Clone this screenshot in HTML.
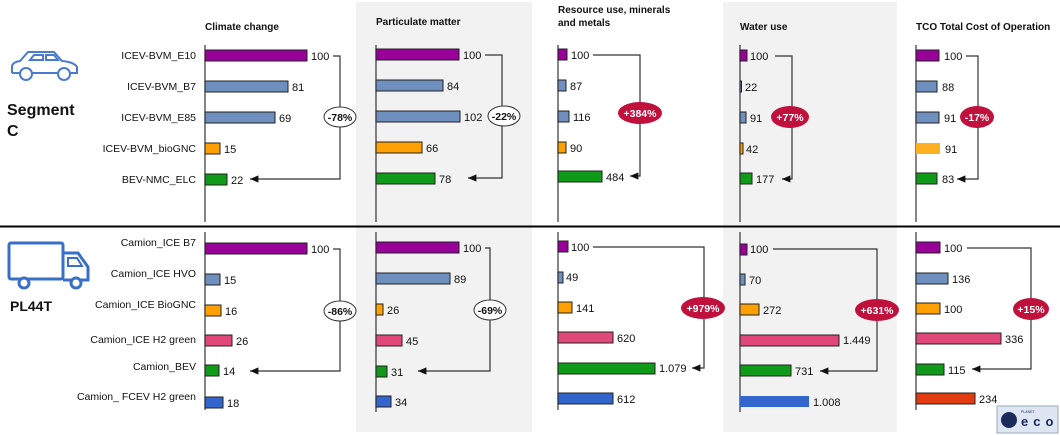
<!DOCTYPE html>
<html><head><meta charset="utf-8"><style>
body{margin:0;background:#fff}
svg{display:block;font-family:"Liberation Sans",sans-serif}
.v{font-size:11px;fill:#111}
.c{font-size:10.5px;fill:#111;text-anchor:end}
.h{font-size:10px;font-weight:bold;fill:#111}
.b{stroke:#222;stroke-width:1}
.br{fill:none;stroke:#333;stroke-width:1.2}
.pc{font-size:10.5px;font-weight:bold;text-anchor:middle}
</style></head><body>
<svg width="1060" height="435" viewBox="0 0 1060 435">
<defs><marker id="a" markerWidth="8" markerHeight="8" refX="7" refY="4" orient="auto"><path d="M0,1 L7,4 L0,7z" fill="#111"/></marker></defs>
<rect x="356" y="2" width="176" height="430" fill="#f2f2f2"/>
<rect x="723" y="2" width="174" height="430" fill="#f2f2f2"/>
<line x1="0" y1="226.5" x2="1060" y2="226.5" stroke="#000" stroke-width="2"/>
<g stroke="#444" stroke-width="1.3">
<line x1="205" y1="45" x2="205" y2="222"/><line x1="205" y1="232" x2="205" y2="410"/>
<line x1="376" y1="45" x2="376" y2="222"/><line x1="376" y1="232" x2="376" y2="412"/>
<line x1="558" y1="45" x2="558" y2="222"/><line x1="558" y1="232" x2="558" y2="410"/>
<line x1="740" y1="45" x2="740" y2="222"/><line x1="740" y1="232" x2="740" y2="412"/>
<line x1="916" y1="45" x2="916" y2="222"/><line x1="916" y1="232" x2="916" y2="410"/>
</g>
<text class="h" x="205" y="30">Climate change</text>
<text class="h" x="376" y="25">Particulate matter</text>
<text class="h" x="558" y="13">Resource use, minerals</text>
<text class="h" x="558" y="26">and metals</text>
<text class="h" x="740" y="30">Water use</text>
<text class="h" x="916" y="30">TCO Total Cost of Operation</text>
<!-- car -->
<g fill="none" stroke="#4a7bd0" stroke-width="2">
<path d="M12,73 L12,66 Q13,62 20,61 L28,52 L54,52 L62,61 Q74,62 77,67 L77,73 L70,73 M58,73 L32,73 M20,73 L12,73"/>
<path d="M30,60 L34,55 L43,55 L43,60z M46,55 L54,55 L58,60 L46,60z"/>
<circle cx="26" cy="74" r="6"/><circle cx="64" cy="74" r="6"/>
</g>
<text x="7" y="115" font-size="16" font-weight="bold" fill="#111">Segment</text>
<text x="7" y="136" font-size="16" font-weight="bold" fill="#111">C</text>
<!-- truck -->
<g fill="none" stroke="#3a6fc8" stroke-width="3">
<rect x="9" y="243" width="54" height="36" rx="2"/>
<path d="M63,253 L78,253 L88,267 L88,280 L63,280"/>
<path d="M68,258 L77,258 L82,266 L68,266z" stroke-width="2"/>
<circle cx="24" cy="283" r="5" fill="#fff"/><circle cx="76" cy="283" r="5" fill="#fff"/>
</g>
<text x="10" y="311" font-size="14" font-weight="bold" fill="#111">PL44T</text>
<!-- categories top -->
<text class="c" x="196" y="59">ICEV-BVM_E10</text>
<text class="c" x="196" y="90">ICEV-BVM_B7</text>
<text class="c" x="196" y="121">ICEV-BVM_E85</text>
<text class="c" x="196" y="152">ICEV-BVM_bioGNC</text>
<text class="c" x="196" y="183">BEV-NMC_ELC</text>
<text class="c" x="196" y="246">Camion_ICE B7</text>
<text class="c" x="196" y="277">Camion_ICE HVO</text>
<text class="c" x="196" y="308">Camion_ICE BioGNC</text>
<text class="c" x="196" y="343">Camion_ICE H2 green</text>
<text class="c" x="196" y="370">Camion_BEV</text>
<text class="c" x="196" y="400">Camion_ FCEV H2 green</text>
<!-- Climate top -->
<g class="b">
<rect x="205" y="50" width="102" height="11" fill="#990099"/>
<rect x="205" y="81" width="83" height="11" fill="#6f8fbf"/>
<rect x="205" y="112" width="70" height="11" fill="#6f8fbf"/>
<rect x="205" y="143" width="15" height="11" fill="#ffa000"/>
<rect x="205" y="174" width="22" height="11" fill="#109a1a"/>
</g>
<text class="v" x="311" y="60">100</text><text class="v" x="292" y="91">81</text><text class="v" x="279" y="122">69</text><text class="v" x="224" y="153">15</text><text class="v" x="231" y="184">22</text>
<path class="br" d="M333,56 L340,56 L340,179 L250,179" marker-end="url(#a)"/>
<ellipse cx="340" cy="117" rx="16" ry="10" fill="#fff" stroke="#333"/><text class="pc" x="340" y="121" fill="#111" font-weight="normal">-78%</text>
<!-- Particulate top -->
<g class="b">
<rect x="376" y="49" width="83" height="11" fill="#990099"/>
<rect x="376" y="80" width="67" height="11" fill="#6f8fbf"/>
<rect x="376" y="111" width="84" height="11" fill="#6f8fbf"/>
<rect x="376" y="142" width="46" height="11" fill="#ffa000"/>
<rect x="376" y="173" width="59" height="11" fill="#109a1a"/>
</g>
<text class="v" x="463" y="59">100</text><text class="v" x="447" y="90">84</text><text class="v" x="464" y="121">102</text><text class="v" x="426" y="152">66</text><text class="v" x="439" y="183">78</text>
<path class="br" d="M485,55 L502,55 L502,178 L468,178" marker-end="url(#a)"/>
<ellipse cx="504" cy="116" rx="16" ry="10" fill="#fff" stroke="#333"/><text class="pc" x="504" y="120" fill="#111" font-weight="normal">-22%</text>
<!-- Resource top -->
<g class="b">
<rect x="558" y="49" width="9" height="11" fill="#990099"/>
<rect x="558" y="80" width="8" height="11" fill="#6f8fbf"/>
<rect x="558" y="111" width="11" height="11" fill="#6f8fbf"/>
<rect x="558" y="142" width="8" height="11" fill="#ffa000"/>
<rect x="558" y="171" width="44" height="11" fill="#109a1a"/>
</g>
<text class="v" x="571" y="59">100</text><text class="v" x="570" y="90">87</text><text class="v" x="573" y="121">116</text><text class="v" x="570" y="152">90</text><text class="v" x="606" y="181">484</text>
<path class="br" d="M593,55 L640,55 L640,176 L630,176" marker-end="url(#a)"/>
<ellipse cx="640" cy="113" rx="22" ry="11" fill="#c0103c"/><text class="pc" x="640" y="117" fill="#fff">+384%</text>
<!-- Water top -->
<g class="b">
<rect x="740" y="50" width="7" height="11" fill="#990099"/>
<rect x="740" y="81" width="1.5" height="11" fill="#6f8fbf"/>
<rect x="740" y="112" width="6" height="11" fill="#6f8fbf"/>
<rect x="740" y="143" width="3" height="11" fill="#ffa000"/>
<rect x="740" y="173" width="12" height="11" fill="#109a1a"/>
</g>
<text class="v" x="750" y="60">100</text><text class="v" x="745" y="91">22</text><text class="v" x="750" y="122">91</text><text class="v" x="746" y="153">42</text><text class="v" x="756" y="183">177</text>
<path class="br" d="M775,56 L792,56 L792,179 L782,179" marker-end="url(#a)"/>
<ellipse cx="790" cy="117" rx="19" ry="11" fill="#c0103c"/><text class="pc" x="790" y="121" fill="#fff">+77%</text>
<!-- TCO top -->
<g class="b">
<rect x="916" y="50" width="23" height="11" fill="#990099"/>
<rect x="916" y="81" width="21" height="11" fill="#6f8fbf"/>
<rect x="916" y="112" width="23" height="11" fill="#6f8fbf"/>
<rect x="916" y="143" width="24" height="11" fill="#ffb020" stroke="none"/>
<rect x="916" y="173" width="21" height="11" fill="#109a1a"/>
</g>
<text class="v" x="944" y="60">100</text><text class="v" x="942" y="91">88</text><text class="v" x="944" y="122">91</text><text class="v" x="945" y="153">91</text><text class="v" x="942" y="183">83</text>
<path class="br" d="M966,56 L978,56 L978,179 L957,179" marker-end="url(#a)"/>
<ellipse cx="977" cy="117" rx="17" ry="11" fill="#c0103c"/><text class="pc" x="977" y="121" fill="#fff">-17%</text>
<!-- Climate bottom -->
<g class="b">
<rect x="205" y="243" width="102" height="11" fill="#990099"/>
<rect x="205" y="274" width="15" height="11" fill="#6f8fbf"/>
<rect x="205" y="305" width="16" height="11" fill="#ffa000"/>
<rect x="205" y="335" width="27" height="11" fill="#e0487a"/>
<rect x="205" y="365" width="14" height="11" fill="#109a1a"/>
<rect x="205" y="397" width="18" height="11" fill="#3366cc"/>
</g>
<text class="v" x="311" y="253">100</text><text class="v" x="224" y="284">15</text><text class="v" x="225" y="315">16</text><text class="v" x="236" y="345">26</text><text class="v" x="223" y="375">14</text><text class="v" x="227" y="407">18</text>
<path class="br" d="M333,249 L340,249 L340,371 L250,371" marker-end="url(#a)"/>
<ellipse cx="340" cy="311" rx="16" ry="10" fill="#fff" stroke="#333"/><text class="pc" x="340" y="315" fill="#111" font-weight="normal">-86%</text>
<!-- Particulate bottom -->
<g class="b">
<rect x="376" y="242" width="83" height="11" fill="#990099"/>
<rect x="376" y="273" width="74" height="11" fill="#6f8fbf"/>
<rect x="376" y="304" width="7" height="11" fill="#ffa000"/>
<rect x="376" y="335" width="26" height="11" fill="#e0487a"/>
<rect x="376" y="366" width="11" height="11" fill="#109a1a"/>
<rect x="376" y="396" width="15" height="11" fill="#3366cc"/>
</g>
<text class="v" x="463" y="252">100</text><text class="v" x="454" y="283">89</text><text class="v" x="387" y="314">26</text><text class="v" x="406" y="345">45</text><text class="v" x="391" y="376">31</text><text class="v" x="395" y="406">34</text>
<path class="br" d="M485,248 L490,248 L490,371 L418,371" marker-end="url(#a)"/>
<ellipse cx="490" cy="310" rx="16" ry="10" fill="#fff" stroke="#333"/><text class="pc" x="490" y="314" fill="#111" font-weight="normal">-69%</text>
<!-- Resource bottom -->
<g class="b">
<rect x="558" y="241" width="10" height="11" fill="#990099"/>
<rect x="558" y="272" width="5" height="11" fill="#6f8fbf"/>
<rect x="558" y="302" width="14" height="11" fill="#ffa000"/>
<rect x="558" y="332" width="55" height="11" fill="#e0487a"/>
<rect x="558" y="363" width="97" height="11" fill="#109a1a"/>
<rect x="558" y="393" width="55" height="11" fill="#3366cc"/>
</g>
<text class="v" x="571" y="251">100</text><text class="v" x="566" y="281">49</text><text class="v" x="576" y="312">141</text><text class="v" x="617" y="342">620</text><text class="v" x="659" y="372">1.079</text><text class="v" x="617" y="403">612</text>
<path class="br" d="M593,247 L704,247 L704,368 L692,368" marker-end="url(#a)"/>
<ellipse cx="703" cy="308" rx="22" ry="11" fill="#c0103c"/><text class="pc" x="703" y="312" fill="#fff">+979%</text>
<!-- Water bottom -->
<g class="b">
<rect x="740" y="244" width="7" height="11" fill="#990099"/>
<rect x="740" y="274" width="5" height="11" fill="#6f8fbf"/>
<rect x="740" y="304" width="19" height="11" fill="#ffa000"/>
<rect x="740" y="335" width="99" height="11" fill="#e0487a"/>
<rect x="740" y="365" width="51" height="11" fill="#109a1a"/>
<rect x="740" y="396" width="69" height="11" fill="#3366cc" stroke="none"/>
</g>
<text class="v" x="750" y="253">100</text><text class="v" x="749" y="284">70</text><text class="v" x="763" y="314">272</text><text class="v" x="843" y="344">1.449</text><text class="v" x="795" y="375">731</text><text class="v" x="813" y="406">1.008</text>
<path class="br" d="M773,249 L877,249 L877,371 L820,371" marker-end="url(#a)"/>
<ellipse cx="877" cy="310" rx="22" ry="11" fill="#c0103c"/><text class="pc" x="877" y="314" fill="#fff">+631%</text>
<!-- TCO bottom -->
<g class="b">
<rect x="916" y="242" width="24" height="11" fill="#990099"/>
<rect x="916" y="273" width="32" height="11" fill="#6f8fbf"/>
<rect x="916" y="303" width="24" height="11" fill="#ffa000"/>
<rect x="916" y="333" width="85" height="11" fill="#e0487a"/>
<rect x="916" y="364" width="28" height="11" fill="#109a1a"/>
<rect x="916" y="393" width="59" height="11" fill="#e03c10"/>
</g>
<text class="v" x="944" y="252">100</text><text class="v" x="952" y="283">136</text><text class="v" x="944" y="313">100</text><text class="v" x="1005" y="343">336</text><text class="v" x="948" y="374">115</text><text class="v" x="979" y="403">234</text>
<path class="br" d="M967,248 L1031,248 L1031,369 L972,369" marker-end="url(#a)"/>
<ellipse cx="1031" cy="309" rx="18" ry="11" fill="#c0103c"/><text class="pc" x="1031" y="313" fill="#fff">+15%</text>
<!-- logo -->
<rect x="997" y="406" width="61" height="27" fill="#dde6f2" stroke="#9ab"/>
<circle cx="1009" cy="420" r="8" fill="#1a2a5a"/>
<text x="1021" y="426" font-size="13" font-weight="bold" fill="#1a2a5a" letter-spacing="5">eco</text>
<text x="1021" y="413" font-size="3.5" fill="#1a2a5a">PLANET</text>
</svg>
</body></html>
